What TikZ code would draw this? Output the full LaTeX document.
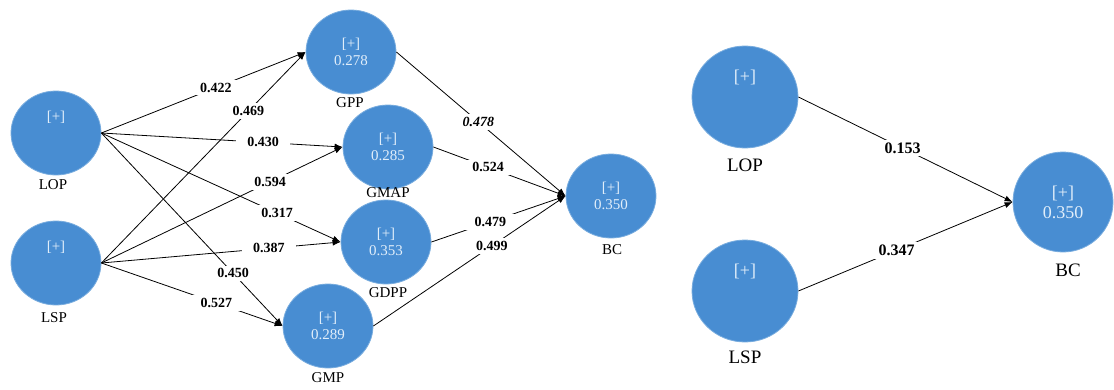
\documentclass[tikz,border=0pt]{standalone}
\usepackage{fontspec}
\setmainfont{Liberation Serif}
\usetikzlibrary{shapes.geometric,arrows.meta}
\definecolor{ballblue}{RGB}{72,141,210}
\definecolor{balledge}{RGB}{120,172,222}
\definecolor{balltext}{RGB}{225,238,250}
\begin{document}
\begin{tikzpicture}[x=1pt,y=-1pt,
  ball/.style={ellipse, fill=ballblue, draw=balledge, line width=0.8pt,
    minimum width=90pt, minimum height=84pt, inner sep=0pt, text=balltext,
    align=center, font=\fontsize{15}{17.5}\selectfont},
  bigball/.style={ball, minimum width=106pt, minimum height=102pt,
    font=\fontsize{18}{20}\selectfont},
  topline/.style={text height=10pt, text depth=33pt},
  toplinebig/.style={text height=12pt, text depth=42pt},
  varname/.style={font=\fontsize{15}{17}\selectfont},
  bigvarname/.style={font=\fontsize{19}{21}\selectfont},
  link/.style={draw, line width=0.8pt, -{Latex[length=8pt,width=6pt]}},
  coef/.style={fill=white, inner xsep=11pt, inner ysep=3pt,
    font=\bfseries\fontsize{14}{16}\selectfont},
  bigcoef/.style={coef, inner xsep=12pt, font=\bfseries\fontsize{16}{18}\selectfont},
]
\useasboundingbox (0,0) rectangle (1114,389);

% ---------- left model ----------
\node[ball,topline] (LOP) at (56,133) {[+]};
\node[ball,topline] (LSP) at (56,263) {[+]};
\node[ball] (GPP)  at (351,52)  {[+]\\0.278};
\node[ball] (GMAP) at (388,147) {[+]\\0.285};
\node[ball] (GDPP) at (386,242) {[+]\\0.353};
\node[ball] (GMP)  at (328,326) {[+]\\0.289};
\node[ball] (BC)   at (611,196) {[+]\\0.350};

\node[varname] (LOPn)  at (53,185)  {LOP};
\node[varname] (LSPn)  at (54,318)  {LSP};
\node[varname] (GPPn)  at (350,103) {GPP};
\node[varname] (GMAPn) at (388,193) {GMAP};
\node[varname] (GDPPn) at (388,293) {GDPP};
\node[varname] (GMPn)  at (328,378) {GMP};
\node[varname] (BCn)   at (612,250) {BC};

\draw[link] (LOP.east) -- node[coef,pos=0.56]{0.422} (GPP.west);
\draw[link] (LSP.east) -- node[coef,pos=0.72]{0.469} (GPP.west);
\draw[link] (LOP.east) -- node[coef,pos=0.67]{0.430} (GMAP.west);
\draw[link] (LSP.east) -- node[coef,pos=0.70]{0.594} (GMAP.west);
\draw[link] (LOP.east) -- node[coef,pos=0.735]{0.317} (GDPP.west);
\draw[link] (LSP.east) -- node[coef,pos=0.70]{0.387} (GDPP.west);
\draw[link] (LOP.east) -- node[coef,pos=0.727]{0.450} (GMP.west);
\draw[link] (LSP.east) -- node[coef,pos=0.635]{0.527} (GMP.west);

\draw[link] (GPP.east)  -- node[coef,pos=0.485,font=\bfseries\itshape\fontsize{14}{16}\selectfont]{0.478} (BC.west);
\draw[link] (GMAP.east) -- node[coef,pos=0.414]{0.524} (BC.west);
\draw[link] (GDPP.east) -- node[coef,pos=0.44]{0.479} (BC.west);
\draw[link] (GMP.east)  -- node[coef,pos=0.616]{0.499} (BC.west);

% ---------- right model ----------
\node[bigball,toplinebig] (RLOP) at (745,97)  {[+]};
\node[bigball,toplinebig] (RLSP) at (745,291) {[+]};
\node[bigball,minimum width=100pt,minimum height=100pt] (RBC) at (1063,202) {[+]\\0.350};

\node[bigvarname] (RLOPn) at (745,165) {LOP};
\node[bigvarname] (RLSPn) at (745,357) {LSP};
\node[bigvarname] (RBCn)  at (1068,270) {BC};

\draw[link] (RLOP.east) -- node[bigcoef,pos=0.486]{0.153} (RBC.west);
\draw[link] (RLSP.east) -- node[bigcoef,pos=0.458]{0.347} (RBC.west);
\end{tikzpicture}
\end{document}
